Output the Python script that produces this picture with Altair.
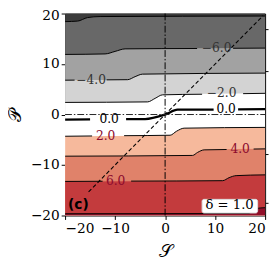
import altair as alt
import pandas as pd
import numpy as np

# ---- contour lines (S, P) ----
levels = [-8, -6, -4, -2, 0, 2, 4, 6, 8]
s_m8 = [-20, -17.5, -15.5, -13, 20];   p_m8 = [18.4, 18.5, 19.2, 19.4, 19.5]
s_m6 = [-20, -12, -10, -8, 20];        p_m6 = [11.9, 12.0, 12.5, 13.0, 13.15]
s_m4 = [-20, -7.5, -6, -4.5, 20];      p_m4 = [6.8, 6.9, 7.5, 8.0, 8.2]
s_m2 = [-20, -3.5, -2, -0.5, 20];      p_m2 = [2.4, 2.5, 3.2, 3.9, 4.2]
s_00 = [-20, -4, 0, 2.5, 20];          p_00 = [-1.0, -0.9, 0.0, 0.95, 1.05]
s_p2 = [-20, 1, 2.3, 3.8, 20];         p_p2 = [-4.3, -4.1, -3.3, -2.7, -2.55]
s_p4 = [-20, 5.5, 6.5, 7.8, 20];       p_p4 = [-8.25, -8.1, -7.5, -7.0, -6.8]
s_p6 = [-20, 11.5, 12.8, 14.2, 20];    p_p6 = [-13.25, -13.1, -12.5, -12.1, -11.95]
s_p8 = [-20, 16.8, 17.5, 18.3, 20];    p_p8 = [-19.65, -19.6, -19.0, -18.6, -18.45]

# colour of the band below each line (top band first)
top_color = "#3c3c3c"
band_colors = ["#686868", "#a2a2a2", "#d3d3d3", "#ffffff", "#ffffff",
               "#f6b99c", "#e0826a", "#c33b3d", "#900f29"]

# inline label gaps and labels
gap_lo = [None, 6.4, -18.1, 7.4, None, -14.6, 12.3, -12.5, None]
gap_hi = [None, 13.6, -11.7, 15.6, None, -8.2, 17.7, -6.8, None]
zero_gaps = [(-15.0, -7.8), (9.7, 14.6)]
label_text = ["\u22126.0", "\u22124.0", "\u22122.0", "0.0", "0.0", "2.0", "4.0", "6.0"]
label_s = [10.3, -14.8, 11.3, -11.2, 12.2, -11.9, 15.0, -9.9]
label_p = [13.1, 6.9, 4.2, -1.0, 1.05, -4.3, -6.8, -13.2]
label_color = ["#333333", "#333333", "#333333", "#000000", "#000000",
               "#8b0a2e", "#8b0a2e", "#8b0a2e"]

diag_s = [-15.3, 19.6]
panel_tag = "(c)"; tag_s = [-19.4]; tag_p = [-18.0]
delta_text = "\u03b4 = 1.0"; delta_s = [12.9]; delta_p = [-18.0]
box_s = [7.4, 18.5]; box_p = [-16.8, -19.5]

right_ticks = [17.0, 8.65, -7.8, -17.5]

line_s = [s_m8, s_m6, s_m4, s_m2, s_00, s_p2, s_p4, s_p6, s_p8]
line_p = [p_m8, p_m6, p_m4, p_m2, p_00, p_p2, p_p4, p_p6, p_p8]

W, H = 205, 207
SERIF = "DejaVu Serif"
xs = alt.Scale(domain=[-20, 20], nice=False, zero=False)
ys = alt.Scale(domain=[-20, 20], nice=False, zero=False)
X = lambda f="S": alt.X(f"{f}:Q", scale=xs, axis=None)
Y = lambda f="P": alt.Y(f"{f}:Q", scale=ys, axis=None)

layers = []
top_df = pd.DataFrame({"S": [-20, 20], "P": [20, 20], "B": [-20, -20]})
layers.append(alt.Chart(top_df).mark_area(color=top_color, clip=True).encode(
    x=X(), y=Y(), y2="B:Q"))
for s, p, c in zip(line_s, line_p, band_colors):
    df = pd.DataFrame({"S": s, "P": p, "B": [-20] * len(s)})
    layers.append(alt.Chart(df).mark_area(color=c, interpolate="monotone", clip=True).encode(
        x=X(), y=Y(), y2="B:Q"))

def segments(s, p, gaps):
    s = np.array(s, float); p = np.array(p, float)
    rows = []
    bounds = [-20.0]
    for a, b in gaps:
        bounds += [a, b]
    bounds.append(20.0)
    for k in range(0, len(bounds), 2):
        a, b = bounds[k], bounds[k + 1]
        ss = [a] + [v for v in s if a < v < b] + [b]
        for v in ss:
            rows.append({"S": v, "P": float(np.interp(v, s, p)), "seg": k})
    return pd.DataFrame(rows)

for i, (s, p) in enumerate(zip(line_s, line_p)):
    if levels[i] == 0:
        continue
    gaps = [] if gap_lo[i] is None else [(gap_lo[i], gap_hi[i])]
    df = segments(s, p, gaps)
    layers.append(alt.Chart(df).mark_line(color="black", strokeWidth=1,
                                          interpolate="monotone", clip=True).encode(
        x=X(), y=Y(), detail="seg:N"))
zdf = segments(s_00, p_00, zero_gaps)
layers.append(alt.Chart(zdf).mark_line(color="black", strokeWidth=2.3,
                                       interpolate="monotone", clip=True).encode(
    x=X(), y=Y(), detail="seg:N"))

layers.append(alt.Chart(pd.DataFrame({"S": diag_s, "P": diag_s})).mark_line(
    color="black", strokeWidth=1.1, strokeDash=[4, 2.5]).encode(x=X(), y=Y()))
layers.append(alt.Chart(pd.DataFrame({"S": [0, 0], "P": [-20, 20]})).mark_line(
    color="black", strokeWidth=1, strokeDash=[7, 2, 1.5, 2]).encode(x=X(), y=Y()))
layers.append(alt.Chart(pd.DataFrame({"S": [-20, 20], "P": [0, 0]})).mark_line(
    color="#222222", strokeWidth=1, strokeDash=[7, 2, 1.5, 2]).encode(x=X(), y=Y()))

ldf = pd.DataFrame({"S": label_s, "P": label_p, "t": label_text, "c": label_color})
layers.append(alt.Chart(ldf).mark_text(font=SERIF, fontSize=12.5).encode(
    x=X(), y=Y(), text="t:N", color=alt.Color("c:N", scale=None)))

layers.append(alt.Chart(pd.DataFrame({"S": tag_s, "P": tag_p, "t": [panel_tag]})).mark_text(
    font="DejaVu Sans", fontWeight="bold", fontSize=14, align="left", color="black").encode(
    x=X(), y=Y(), text="t:N"))
layers.append(alt.Chart(pd.DataFrame({"S": [box_s[0]], "S2": [box_s[1]], "P": [box_p[0]], "P2": [box_p[1]]})).mark_rect(
    fill="white", stroke="#dddddd", strokeWidth=1, cornerRadius=2).encode(
    x=X(), x2="S2:Q", y=Y(), y2="P2:Q"))
layers.append(alt.Chart(pd.DataFrame({"S": delta_s, "P": delta_p, "t": [delta_text]})).mark_text(
    font=SERIF, fontSize=13.5, color="black").encode(x=X(), y=Y(), text="t:N"))

axis_font = dict(labelFont=SERIF, labelFontSize=14, labelColor="black",
                 tickColor="black", domain=False, grid=False, tickSize=4,
                 titleFont=SERIF, titleFontSize=18, titleFontWeight="normal", titleColor="black",
                 titleAlign="center", titleBaseline="middle")
ax_df = pd.DataFrame({"S": [-20, 20], "P": [-20, 20]})
layers.append(alt.Chart(ax_df).mark_point(opacity=0).encode(
    x=alt.X("S:Q", scale=xs, title="\U0001D4AE",
            axis=alt.Axis(values=[-20, -10, 0, 10, 20], labelPadding=2,
                          titleX=W / 2, titleY=37, **axis_font)),
    y=alt.Y("P:Q", scale=ys, title="\U0001D4AB",
            axis=alt.Axis(values=[-20, -10, 0, 10, 20], labelPadding=2,
                          titleX=-51, titleY=H / 2, titleAngle=270,
                          labelOffset={"condition": {"test": "datum.value === 20", "value": 2}, "value": 0},
                          **axis_font))))
layers.append(alt.Chart(ax_df).mark_point(opacity=0).encode(
    x=X(),
    y=alt.Y("P:Q", scale=ys, axis=alt.Axis(orient="right", values=right_ticks, labels=False,
                                            domain=False, grid=False, tickSize=3, tickColor="black",
                                            title=None))))

chart = alt.layer(*layers).resolve_axis(x="independent", y="independent").properties(
    width=W, height=H,
    autosize=alt.AutoSizeParams(type="none"),
    padding={"left": 58.5, "top": 2.5, "right": 5, "bottom": 46},
).configure_view(stroke="black", strokeWidth=1)

chart.save("out.html", embed_options={"renderer": "svg", "actions": False})
